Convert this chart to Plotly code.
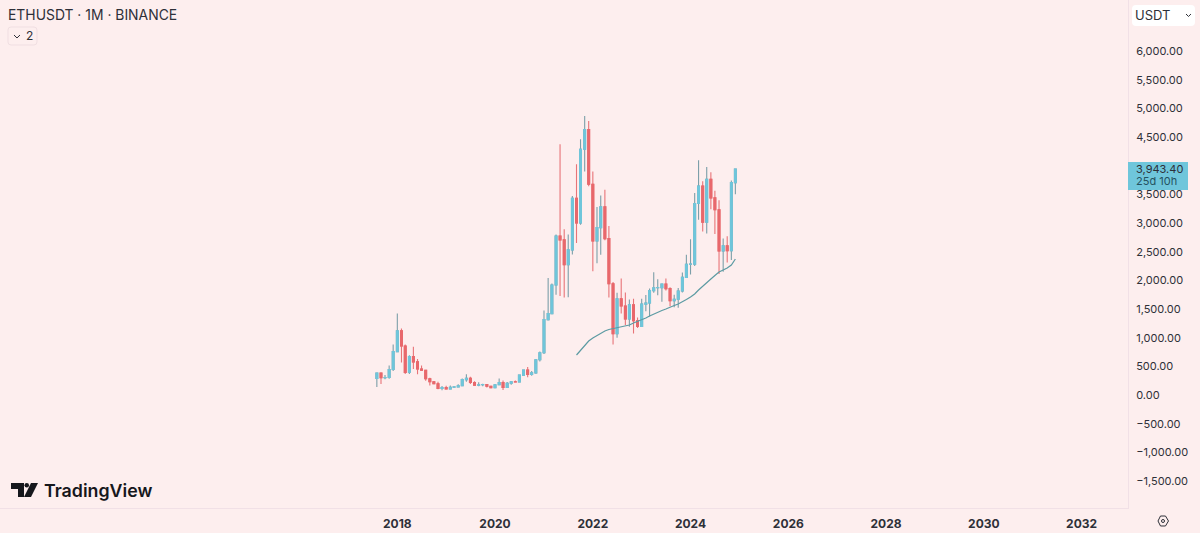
import pandas as pd
import plotly.graph_objects as go

W, H = 1200, 533
PLOT_R, PLOT_B = 1128, 508

# velas mensuales ETHUSDT, ago 2017 a dic 2024
months = pd.date_range("2017-08-01", "2024-12-01", freq="MS")
open_ = [290, 383, 301, 305, 445, 755, 1119, 855, 396, 669, 578, 453, 433, 283, 232, 197, 113, 131, 107, 135, 141, 162, 268, 290, 218, 172, 180, 182, 152, 129, 179, 217, 133, 206, 231, 226, 346, 434, 360, 386, 616, 737, 1314, 1419, 1918, 2772, 2706, 2274, 2531, 3430, 3000, 4287, 4630, 3676, 2686, 2920, 3281, 2727, 1940, 1070, 1680, 1553, 1328, 1572, 1294, 1196, 1585, 1605, 1821, 1870, 1873, 1934, 1856, 1645, 1671, 1815, 2052, 2282, 2283, 3340, 3645, 3015, 3762, 3438, 3232, 2513, 2603, 2518, 3704]
high = [394, 394, 347, 515, 881, 1420, 1162, 880, 695, 842, 626, 516, 437, 303, 238, 229, 158, 160, 165, 150, 187, 288, 362, 318, 240, 223, 198, 189, 153, 188, 288, 253, 227, 245, 254, 350, 445, 488, 420, 623, 757, 1474, 2042, 1947, 2798, 4372, 2890, 2800, 3470, 4027, 4460, 4868, 4778, 3900, 3280, 3480, 3580, 2950, 1970, 1785, 2030, 1790, 1665, 1680, 1350, 1680, 1743, 1857, 2140, 2018, 1930, 2030, 1880, 1750, 1865, 2136, 2445, 2717, 3522, 4093, 3730, 3977, 3887, 3562, 3395, 2728, 2769, 3740, 3943]
low = [140, 190, 275, 283, 417, 756, 565, 365, 365, 455, 360, 423, 250, 167, 188, 101, 81, 102, 101, 125, 138, 160, 230, 190, 165, 151, 153, 130, 116, 125, 178, 86, 130, 178, 216, 225, 335, 308, 335, 372, 583, 714, 1300, 1420, 1750, 1728, 1700, 1706, 2450, 2652, 2970, 3900, 3643, 2159, 2300, 2445, 2700, 1700, 880, 1000, 1422, 1220, 1190, 1073, 1170, 1190, 1460, 1370, 1785, 1740, 1626, 1825, 1550, 1530, 1520, 1790, 2044, 2100, 2250, 3056, 2850, 2817, 3240, 2810, 2111, 2150, 2310, 2357, 3500]
close = [383, 301, 305, 445, 756, 1118, 855, 395, 669, 578, 453, 433, 283, 232, 197, 113, 131, 107, 135, 141, 162, 268, 290, 218, 172, 180, 182, 152, 129, 179, 217, 133, 206, 231, 226, 346, 434, 360, 386, 616, 737, 1314, 1419, 1918, 2772, 2706, 2274, 2531, 3430, 3000, 4287, 4630, 3676, 2686, 2920, 3281, 2727, 1940, 1070, 1680, 1553, 1328, 1572, 1294, 1196, 1585, 1605, 1821, 1870, 1873, 1934, 1856, 1645, 1671, 1815, 2052, 2282, 2283, 3340, 3645, 3015, 3762, 3438, 3232, 2513, 2603, 2518, 3704, 3943]

# media movil, empieza en sep 2021
ma_months = pd.date_range("2021-09-01", "2024-12-01", freq="MS")
ma_values = [698, 785, 863, 942, 994, 1038, 1081, 1116, 1143, 1160, 1177, 1195, 1204, 1221, 1256, 1282, 1308, 1343, 1378, 1413, 1448, 1474, 1500, 1535, 1561, 1587, 1622, 1666, 1709, 1762, 1832, 1901, 1962, 2023, 2084, 2145, 2180, 2215, 2268, 2372]

y_ticks = [6000, 5500, 5000, 4500, 4000, 3500, 3000, 2500, 2000, 1500, 1000, 500, 0, -500, -1000, -1500]
x_ticks = ["2018-01-01", "2020-01-01", "2022-01-01", "2024-01-01", "2026-01-01", "2028-01-01", "2030-01-01", "2032-01-01"]
x_labels = ["2018", "2020", "2022", "2024", "2026", "2028", "2030", "2032"]

BG = "#fdeeee"
BLUE = "#6fc6db"
RED = "#e8686c"
TEXT = "#2e3038"
BORDER = "#f1e0e6"


def px(x):
    return x / PLOT_R


def py(y):
    return 1 - y / PLOT_B


def path(points, close_it=False):
    s = "M" + " L".join(f"{px(a):.5f},{py(b):.5f}" for a, b in points)
    return s + (" Z" if close_it else "")


def rounded(x0, y0, x1, y1, r):
    return (f"M{px(x0 + r):.5f},{py(y0):.5f} L{px(x1 - r):.5f},{py(y0):.5f} "
            f"Q{px(x1):.5f},{py(y0):.5f} {px(x1):.5f},{py(y0 + r):.5f} "
            f"L{px(x1):.5f},{py(y1 - r):.5f} Q{px(x1):.5f},{py(y1):.5f} {px(x1 - r):.5f},{py(y1):.5f} "
            f"L{px(x0 + r):.5f},{py(y1):.5f} Q{px(x0):.5f},{py(y1):.5f} {px(x0):.5f},{py(y1 - r):.5f} "
            f"L{px(x0):.5f},{py(y0 + r):.5f} Q{px(x0):.5f},{py(y0):.5f} {px(x0 + r):.5f},{py(y0):.5f} Z")


def note(x, y, text, size, color=TEXT, weight=400, anchor="left", font="Inter"):
    fig.add_annotation(xref="paper", yref="paper", x=px(x), y=py(y), text=text, showarrow=False,
                       xanchor=anchor, yanchor="middle", borderpad=0, borderwidth=0,
                       font=dict(family=font, size=size, color=color, weight=weight))


fig = go.Figure()

# mechas: linea fina, el cuerpo va encima
fig.add_trace(go.Candlestick(x=months, open=open_, high=high, low=low, close=close,
                             increasing=dict(line=dict(color="#7c9fa9", width=1.1), fillcolor=BLUE),
                             decreasing=dict(line=dict(color="#e87478", width=1.1), fillcolor=RED),
                             whiskerwidth=0, showlegend=False))
body_hi = [max(a, b) for a, b in zip(open_, close)]
body_lo = [min(a, b) for a, b in zip(open_, close)]
fig.add_trace(go.Candlestick(x=months, open=open_, high=body_hi, low=body_lo, close=close,
                             increasing=dict(line=dict(color=BLUE, width=1.1), fillcolor=BLUE),
                             decreasing=dict(line=dict(color=RED, width=1.1), fillcolor=RED),
                             whiskerwidth=0, showlegend=False))
fig.add_trace(go.Scatter(x=ma_months, y=ma_values, mode="lines",
                         line=dict(color="#5c9ba3", width=1.2), showlegend=False))

fig.update_layout(
    width=W, height=H, autosize=False, boxgap=0.3,
    margin=dict(l=0, r=W - PLOT_R, t=0, b=H - PLOT_B),
    paper_bgcolor=BG, plot_bgcolor=BG, showlegend=False,
    font=dict(family="Inter", color=TEXT),
    xaxis=dict(type="date", range=["2009-11-15", "2032-12-13"], rangeslider=dict(visible=False),
               tickvals=x_ticks, ticktext=x_labels, showgrid=False, zeroline=False,
               showline=True, linecolor=BORDER, ticks="outside", ticklen=5, tickcolor="rgba(0,0,0,0)",
               tickfont=dict(family="Inter", size=12, color=TEXT, weight=700)),
    yaxis=dict(side="right", range=[-1971, 6890], tickvals=y_ticks, tickformat=",.2f",
               showgrid=False, zeroline=False, showline=True, linecolor=BORDER,
               ticks="outside", ticklen=5, tickcolor="rgba(0,0,0,0)",
               tickfont=dict(family="Inter", size=11, color=TEXT)),
)

# etiqueta de precio
fig.add_shape(type="rect", xref="paper", yref="paper", x0=px(1128), x1=px(1188), y0=py(162), y1=py(190),
              fillcolor=BLUE, line_width=0)
note(1136, 169, "3,943.40", 11)
note(1136, 181, "25d 10h", 11, color="#24525f")

# cabecera
note(8, 15, "ETHUSDT · 1M · BINANCE", 13.9)
fig.add_shape(type="path", xref="paper", yref="paper", path=rounded(8, 27, 37, 45, 3),
              fillcolor=BG, line=dict(color="#f0dfe2", width=1))
fig.add_shape(type="path", xref="paper", yref="paper", path=path([(14, 35), (17, 38), (20, 35)]),
              line=dict(color=TEXT, width=1))
note(26, 36, "2", 12)

# selector de moneda
fig.add_shape(type="path", xref="paper", yref="paper", path=rounded(1132, 5, 1195, 26, 4),
              fillcolor="#ffffff", line_width=0)
note(1135, 15.5, "USDT", 13)
fig.add_shape(type="path", xref="paper", yref="paper", path=path([(1186, 14), (1188.5, 16.5), (1191, 14)]),
              line=dict(color=TEXT, width=1))

# logo
logo = "#16171c"
fig.add_shape(type="path", xref="paper", yref="paper",
              path=path([(11, 483), (24, 483), (24, 497), (18, 497), (18, 489), (11, 489)], True),
              fillcolor=logo, line_width=0)
fig.add_shape(type="circle", xref="paper", yref="paper", x0=px(24.5), x1=px(29), y0=py(483), y1=py(487.5),
              fillcolor=logo, line_width=0)
fig.add_shape(type="path", xref="paper", yref="paper",
              path=path([(31, 483), (38, 483), (31, 497), (24, 497)], True),
              fillcolor=logo, line_width=0)
note(44, 490, "TradingView", 17.8, color=logo, weight=600)

# engranaje de ajustes
fig.add_shape(type="path", xref="paper", yref="paper",
              path=path([(1158, 521), (1160.5, 516), (1165.5, 516), (1168.5, 521), (1165.5, 526), (1160.5, 526)], True),
              line=dict(color=TEXT, width=1))
fig.add_shape(type="circle", xref="paper", yref="paper", x0=px(1161.5), x1=px(1164.5), y0=py(519.5), y1=py(522.5),
              line=dict(color=TEXT, width=1))

# sin margen del body para que el grafico ocupe toda la ventana
fig.write_html("out.html", config={"displayModeBar": False},
               post_script="document.body.style.margin='0';document.body.style.overflow='hidden';")
